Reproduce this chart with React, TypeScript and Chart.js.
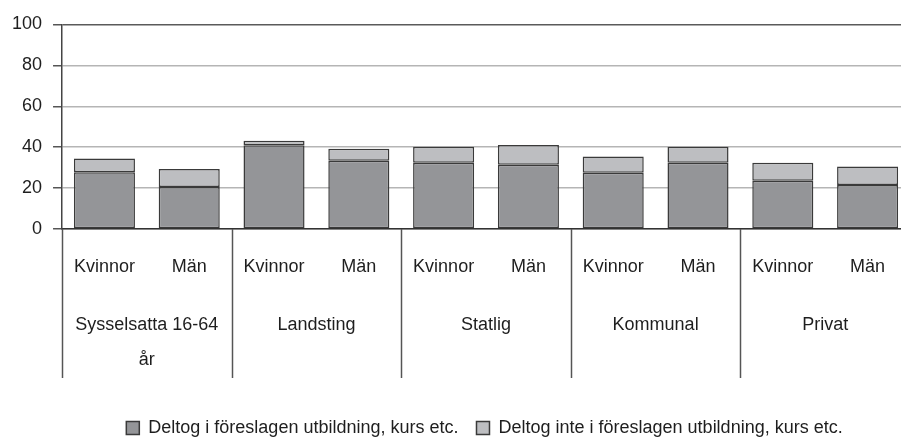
import React, { useEffect, useRef } from 'react';
import { Chart, registerables } from 'chart.js';

Chart.register(...registerables);

const genders = ['Kvinnor', 'Män'];
const groupLabels = [['Sysselsatta 16-64', 'år'], ['Landsting'], ['Statlig'], ['Kommunal'], ['Privat']];
const categories = groupLabels.flatMap(() => genders);
const deltog = [27.7, 20.5, 41.0, 33.4, 32.4, 31.4, 27.5, 32.4, 23.6, 21.5];
const deltogInte = [6.8, 8.8, 2.2, 5.9, 7.8, 9.7, 8.0, 7.8, 8.8, 9.1];
const seriesNames = ['Deltog i föreslagen utbildning, kurs etc.', 'Deltog inte i föreslagen utbildning, kurs etc.'];
const yTicks = [0, 20, 40, 60, 80, 100];

const FONT = "'Liberation Sans', Arial, sans-serif";
const LEGEND_SHIFT = 29;

const groupSeparators = {
  id: 'groupSeparators',
  afterDraw(chart: any) {
    const x2 = chart.scales.x2;
    const ctx = chart.ctx;
    const n = groupLabels.length;
    const step = (x2.right - x2.left) / n;
    ctx.save();
    ctx.strokeStyle = '#555';
    ctx.lineWidth = 1.5;
    for (let i = 0; i <= n; i++) {
      const px = Math.round(x2.getPixelForValue(i) - step / 2) + 0.5;
      ctx.beginPath();
      ctx.moveTo(px, chart.chartArea.bottom);
      ctx.lineTo(px, x2.bottom - 2);
      ctx.stroke();
    }
    ctx.restore();
  },
};

const legendShift = {
  id: 'legendShift',
  afterLayout(chart: any) {
    if (chart.legend) {
      chart.legend.left += LEGEND_SHIFT;
      chart.legend.right += LEGEND_SHIFT;
    }
  },
};

export default function App() {
  const ref = useRef<HTMLCanvasElement>(null);
  useEffect(() => {
    if (!ref.current) return;
    const chart = new Chart(ref.current, {
      type: 'bar',
      data: {
        labels: categories,
        datasets: [
          {
            label: seriesNames[0],
            data: deltog,
            backgroundColor: '#949598',
            borderColor: '#3a3a3a',
            borderWidth: 1.5,
            borderSkipped: false,
            barPercentage: 0.72,
            categoryPercentage: 1,
            stack: 's',
          },
          {
            label: seriesNames[1],
            data: deltogInte,
            backgroundColor: '#bdbec1',
            borderColor: '#3a3a3a',
            borderWidth: 1.5,
            borderSkipped: false,
            barPercentage: 0.72,
            categoryPercentage: 1,
            stack: 's',
          },
        ],
      },
      options: {
        animation: false,
        responsive: false,
        devicePixelRatio: 1,
        layout: { padding: { left: 1, right: 2, top: 24.5, bottom: -8 } },
        plugins: {
          tooltip: { enabled: false },
          legend: {
            position: 'bottom',
            title: { display: true, text: '', font: { size: 1, lineHeight: '1px' }, padding: { top: 10, bottom: 10 } },
            labels: {
              boxWidth: 13,
              boxHeight: 13,
              padding: 18,
              color: '#1e1e1e',
              font: { family: FONT, size: 18 },
            },
          },
        },
        scales: {
          x: {
            stacked: true,
            weight: 0,
            offset: true,
            grid: { display: false, drawTicks: false },
            border: { display: true, color: '#333', width: 1.5 },
            ticks: {
              color: '#1e1e1e',
              padding: 26,
              maxRotation: 0,
              autoSkip: false,
              font: { family: FONT, size: 18, lineHeight: '24px' },
            },
          },
          x2: {
            type: 'category',
            position: 'bottom',
            labels: groupLabels as any,
            weight: 1,
            offset: true,
            grid: { display: false, drawTicks: false },
            border: { display: false },
            ticks: {
              color: '#1e1e1e',
              padding: 2.5,
              maxRotation: 0,
              autoSkip: false,
              font: { family: FONT, size: 18, lineHeight: '35px' },
            },
          },
          y: {
            stacked: true,
            min: 0,
            max: 100,
            afterBuildTicks: (scale: any) => {
              scale.ticks = yTicks.map((v) => ({ value: v }));
            },
            grid: {
              color: (c: any) => (c.tick && c.tick.value === 100 ? '#5a5a5a' : '#b5b5b5'),
              lineWidth: 1.5,
              tickLength: 9,
              tickColor: '#555',
            },
            border: { display: true, color: '#444', width: 1.5 },
            ticks: {
              color: '#1e1e1e',
              padding: 11,
              font: { family: FONT, size: 18 },
            },
          },
        },
      },
      plugins: [groupSeparators, legendShift],
    });
    return () => chart.destroy();
  }, []);
  return (
    <div style={{ position: 'fixed', left: 0, top: 0, width: 901, height: 439, overflow: 'hidden', background: '#fff' }}>
      <canvas ref={ref} width={912} height={439} style={{ width: 912, height: 439, display: 'block' }} />
    </div>
  );
}
